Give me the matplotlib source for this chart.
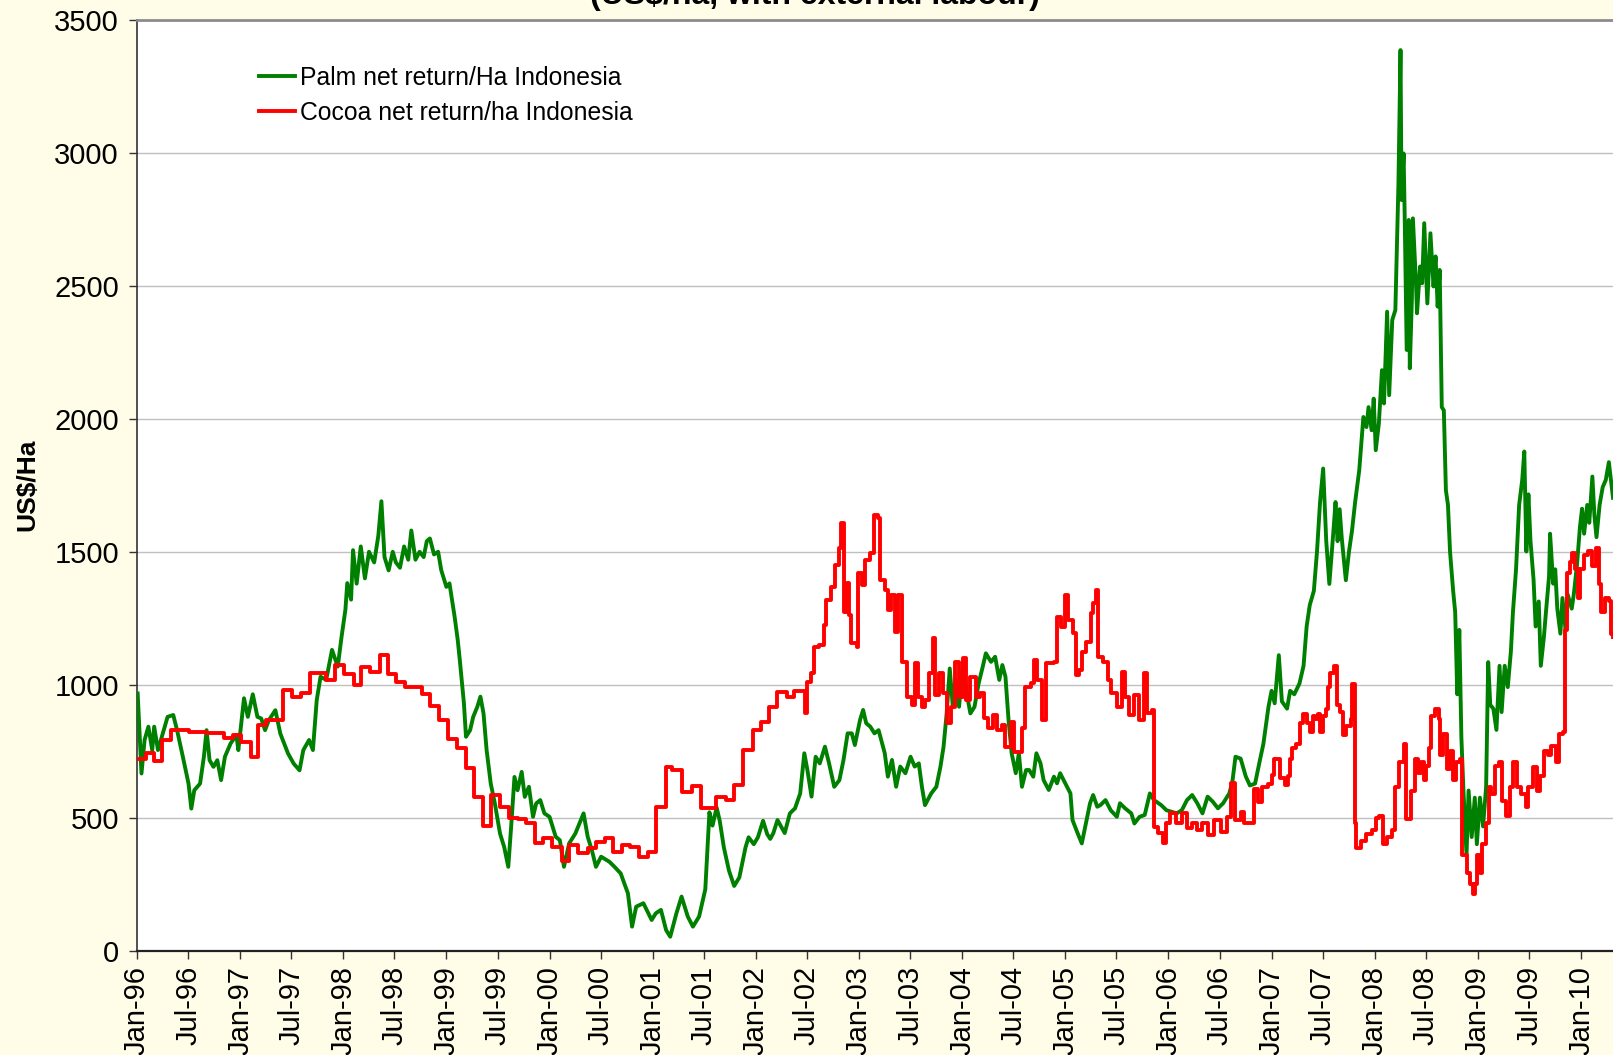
import numpy as np
import matplotlib.pyplot as plt

plt.rcParams['font.family'] = ['Liberation Sans', 'DejaVu Sans']

# palm net return, US$/ha (time in years after Jan 1996)
palm_t = [0.007, 0.044, 0.074, 0.111, 0.148, 0.167, 0.204, 0.241, 0.297, 0.352, 0.389, 0.445, 0.5, 0.527,
          0.556, 0.612, 0.649, 0.675, 0.704, 0.742, 0.779, 0.816, 0.853, 0.908, 0.964, 0.983, 1.038, 1.075,
          1.123, 1.168, 1.205, 1.242, 1.279, 1.342, 1.39, 1.465, 1.52, 1.576, 1.613, 1.669, 1.706, 1.743,
          1.78, 1.835, 1.891, 1.947, 1.984, 2.021, 2.039, 2.076, 2.095, 2.13, 2.17, 2.21, 2.25, 2.3, 2.34,
          2.37, 2.4, 2.44, 2.48, 2.51, 2.55, 2.59, 2.63, 2.66, 2.7, 2.74, 2.78, 2.81, 2.84, 2.88, 2.92, 2.95,
          3.0, 3.03, 3.08, 3.11, 3.13, 3.17, 3.19, 3.23, 3.26, 3.3, 3.33, 3.36, 3.39, 3.43, 3.47, 3.52, 3.56,
          3.6, 3.63, 3.66, 3.69, 3.73, 3.76, 3.8, 3.84, 3.87, 3.91, 3.95, 4.0, 4.06, 4.1, 4.14, 4.19, 4.25,
          4.29, 4.33, 4.37, 4.41, 4.45, 4.5, 4.58, 4.63, 4.69, 4.76, 4.8, 4.84, 4.91, 4.99, 5.03, 5.08, 5.13,
          5.17, 5.23, 5.28, 5.34, 5.39, 5.45, 5.51, 5.55, 5.58, 5.62, 5.65, 5.69, 5.74, 5.79, 5.84, 5.9,
          5.93, 5.98, 6.02, 6.07, 6.11, 6.14, 6.17, 6.21, 6.28, 6.33, 6.38, 6.43, 6.47, 6.5, 6.54, 6.58,
          6.62, 6.67, 6.71, 6.76, 6.81, 6.85, 6.89, 6.93, 6.96, 7.01, 7.04, 7.07, 7.11, 7.15, 7.19, 7.25,
          7.28, 7.32, 7.36, 7.4, 7.45, 7.5, 7.54, 7.58, 7.61, 7.64, 7.7, 7.75, 7.79, 7.82, 7.85, 7.88, 7.91,
          7.94, 7.97, 8.01, 8.05, 8.08, 8.12, 8.16, 8.2, 8.23, 8.28, 8.32, 8.36, 8.39, 8.42, 8.45, 8.48,
          8.52, 8.55, 8.58, 8.62, 8.65, 8.69, 8.72, 8.76, 8.79, 8.84, 8.89, 8.92, 8.95, 9.0, 9.05, 9.07,
          9.12, 9.16, 9.2, 9.24, 9.27, 9.31, 9.34, 9.39, 9.44, 9.5, 9.53, 9.58, 9.64, 9.67, 9.72, 9.77,
          9.82, 9.86, 9.93, 9.98, 10.03, 10.08, 10.13, 10.18, 10.23, 10.28, 10.33, 10.38, 10.43, 10.48,
          10.53, 10.59, 10.62, 10.65, 10.7, 10.75, 10.79, 10.84, 10.89, 10.92, 10.97, 11.0, 11.03, 11.07,
          11.1, 11.15, 11.18, 11.22, 11.27, 11.31, 11.34, 11.37, 11.41, 11.44, 11.47, 11.5, 11.53, 11.56,
          11.6, 11.62, 11.64, 11.66, 11.68, 11.72, 11.75, 11.78, 11.81, 11.85, 11.89, 11.92, 11.94, 11.97,
          11.99, 12.01, 12.04, 12.07, 12.09, 12.12, 12.14, 12.17, 12.2, 12.22, 12.23, 12.25, 12.26, 12.28,
          12.29, 12.31, 12.33, 12.34, 12.36, 12.37, 12.4, 12.41, 12.44, 12.46, 12.48, 12.51, 12.54, 12.57,
          12.59, 12.61, 12.63, 12.65, 12.67, 12.69, 12.71, 12.73, 12.76, 12.78, 12.8, 12.82, 12.84, 12.86,
          12.89, 12.91, 12.94, 12.97, 12.99, 13.02, 13.05, 13.08, 13.1, 13.12, 13.15, 13.18, 13.21, 13.23,
          13.26, 13.29, 13.32, 13.34, 13.37, 13.4, 13.43, 13.45, 13.47, 13.49, 13.51, 13.54, 13.56, 13.59,
          13.61, 13.64, 13.66, 13.69, 13.7, 13.73, 13.75, 13.77, 13.8, 13.82, 13.85, 13.87, 13.91, 13.93,
          13.96, 13.99, 14.01, 14.03, 14.06, 14.08, 14.11, 14.13, 14.15, 14.18, 14.21, 14.24, 14.27, 14.31]
palm_val = [967, 666, 792, 842, 754, 842, 754, 804, 879, 886, 829, 729, 628, 534,
            603, 628, 729, 829, 716, 691, 716, 641, 729, 779, 811, 754, 949, 879,
            964, 879, 873, 829, 867, 904, 816, 741, 703, 678, 754, 792, 754, 942,
            1030, 1018, 1131, 1068, 1181, 1282, 1382, 1320, 1506, 1380, 1520, 1400, 1500, 1460, 1560,
            1690, 1480, 1430, 1500, 1460, 1440, 1520, 1470, 1580, 1470, 1500, 1480, 1540, 1550, 1490, 1500, 1431,
            1368, 1381, 1255, 1168, 1093, 930, 804, 829, 879, 917, 955, 892, 754, 628, 553, 440, 390,
            315, 478, 653, 603, 672, 578, 616, 503, 553, 566, 516, 503, 428, 415, 315, 403, 440,
            478, 516, 428, 378, 315, 353, 334, 315, 290, 215, 90, 165, 178, 115, 140, 153, 77,
            52, 140, 203, 128, 90, 128, 230, 520, 470, 538, 488, 388, 300, 243, 275, 388,
            426, 400, 426, 488, 438, 420, 442, 491, 442, 516, 535, 591, 742, 679, 579, 729,
            704, 767, 704, 616, 641, 717, 817, 817, 773, 867, 905, 855, 842, 817, 829, 742,
            654, 717, 616, 692, 667, 729, 692, 704, 616, 547, 591, 616, 692, 767, 892, 1061, 917,
            1018, 917, 1086, 955, 892, 917, 1005, 1068, 1118, 1086, 1105, 1018, 1074, 1030, 867, 742,
            667, 742, 616, 679, 679, 654, 742, 704, 641, 604, 654, 629, 667, 629, 591, 491,
            441, 403, 478, 554, 585, 541, 547, 566, 528, 503, 554, 535, 516, 478, 503, 510,
            591, 566, 547, 528, 522, 516, 528, 566, 585, 554, 516, 579, 560, 535,
            554, 591, 635, 729, 722, 655, 621, 628, 722, 776, 917, 977, 930, 1111,
            937, 910, 977, 964, 1004, 1071, 1219, 1299, 1353, 1499, 1687, 1813, 1540, 1379,
            1580, 1687, 1540, 1660, 1553, 1393, 1499, 1580, 1687, 1807, 2007, 1969, 2044, 1957,
            2076, 1882, 1982, 2183, 2058, 2403, 2089, 2372, 2409, 2722, 2885, 3387, 2823, 2998,
            2773, 2259, 2748, 2190, 2447, 2754, 2510, 2397, 2573, 2510, 2736, 2434, 2698, 2498,
            2611, 2422, 2560, 2044, 2032, 1731, 1676, 1501, 1354, 1273, 964, 1206, 803, 602,
            360, 602, 427, 575, 400, 575, 467, 615, 1085, 924, 910, 830, 1071, 897,
            1071, 991, 1125, 1273, 1434, 1676, 1770, 1877, 1501, 1716, 1541, 1394, 1219, 1313,
            1071, 1179, 1273, 1407, 1568, 1380, 1434, 1286, 1192, 1326, 1206, 1340, 1286, 1340,
            1447, 1595, 1662, 1568, 1676, 1609, 1783, 1635, 1555, 1676, 1743, 1770, 1837, 1703]

# cocoa net return, US$/ha (value holds until the next change)
cocoa_t = [0.0, 0.085, 0.167, 0.241, 0.334, 0.5, 0.667, 0.842, 0.927, 1.012, 1.101, 1.175, 1.25, 1.42,
           1.5, 1.594, 1.68, 1.835, 1.917, 2.01, 2.1, 2.176, 2.262, 2.354, 2.43, 2.51, 2.6, 2.762, 2.844,
           2.93, 3.02, 3.1, 3.19, 3.27, 3.356, 3.43, 3.52, 3.61, 3.69, 3.77, 3.856, 3.94, 4.02, 4.116,
           4.19, 4.28, 4.375, 4.45, 4.535, 4.616, 4.7, 4.78, 4.87, 4.95, 5.03, 5.128, 5.19, 5.28, 5.38,
           5.465, 5.61, 5.71, 5.79, 5.88, 5.97, 6.05, 6.13, 6.21, 6.3, 6.37, 6.48, 6.5, 6.53, 6.56, 6.61,
           6.66, 6.68, 6.73, 6.77, 6.81, 6.83, 6.85, 6.88, 6.9, 6.92, 6.98, 6.99, 7.03, 7.06, 7.11, 7.15,
           7.18, 7.2, 7.25, 7.28, 7.31, 7.35, 7.38, 7.42, 7.47, 7.51, 7.54, 7.57, 7.61, 7.64, 7.68, 7.72,
           7.74, 7.78, 7.81, 7.85, 7.89, 7.93, 7.97, 8.01, 8.04, 8.08, 8.13, 8.17, 8.21, 8.25, 8.3, 8.34,
           8.39, 8.42, 8.47, 8.5, 8.58, 8.61, 8.67, 8.7, 8.73, 8.77, 8.81, 8.89, 8.92, 8.96, 9.0, 9.03,
           9.07, 9.1, 9.13, 9.16, 9.2, 9.25, 9.27, 9.3, 9.32, 9.37, 9.41, 9.44, 9.5, 9.55, 9.58, 9.62,
           9.67, 9.71, 9.76, 9.79, 9.84, 9.86, 9.9, 9.95, 9.98, 10.02, 10.07, 10.13, 10.18, 10.23, 10.28,
           10.33, 10.38, 10.44, 10.51, 10.57, 10.61, 10.65, 10.7, 10.73, 10.83, 10.87, 10.91, 10.97, 11.0,
           11.02, 11.08, 11.13, 11.16, 11.18, 11.2, 11.24, 11.28, 11.3, 11.34, 11.37, 11.4, 11.42, 11.45,
           11.47, 11.5, 11.53, 11.55, 11.57, 11.61, 11.63, 11.66, 11.69, 11.72, 11.77, 11.78, 11.81, 11.82,
           11.87, 11.92, 11.97, 12.01, 12.04, 12.08, 12.12, 12.17, 12.2, 12.24, 12.28, 12.3, 12.35, 12.39,
           12.42, 12.45, 12.48, 12.5, 12.53, 12.55, 12.58, 12.62, 12.63, 12.66, 12.7, 12.73, 12.76, 12.79,
           12.83, 12.85, 12.89, 12.92, 12.95, 12.97, 12.99, 13.02, 13.04, 13.08, 13.11, 13.13, 13.17, 13.2,
           13.23, 13.27, 13.31, 13.34, 13.38, 13.42, 13.47, 13.49, 13.53, 13.57, 13.6, 13.64, 13.68, 13.71,
           13.76, 13.79, 13.83, 13.84, 13.86, 13.89, 13.91, 13.94, 13.97, 13.99, 14.03, 14.07, 14.11,
           14.15, 14.17, 14.19, 14.23, 14.27, 14.29, 14.31]
cocoa_val = [720, 742, 713, 793, 829, 822, 819, 798, 810, 783, 727, 848, 867, 980,
             955, 967, 1043, 1018, 1074, 1040, 999, 1065, 1049, 1112, 1040, 1011, 990, 965, 920,
             867, 796, 761, 685, 576, 468, 585, 541, 497, 493, 481, 405, 422, 388, 337,
             397, 366, 385, 410, 422, 372, 397, 391, 353, 372, 541, 692, 679, 598, 619,
             535, 579, 566, 622, 754, 829, 861, 917, 974, 955, 977, 892, 1011, 1043, 1143, 1149,
             1225, 1319, 1369, 1451, 1513, 1607, 1274, 1381, 1262, 1156, 1143, 1419, 1375, 1469, 1494, 1639,
             1626, 1394, 1356, 1281, 1337, 1199, 1337, 1086, 955, 923, 1080, 955, 917, 942, 1043, 1174,
             961, 1043, 967, 855, 917, 1086, 955, 1099, 942, 1030, 955, 967, 873, 836, 886, 829,
             848, 767, 861, 748, 836, 992, 1005, 1093, 1018, 867, 1080, 1086, 1256, 1218, 1337, 1243,
             1193, 1036, 1055, 1124, 1162, 1268, 1306, 1356, 1105, 1086, 1018, 967, 917, 1049, 955, 886,
             961, 867, 1043, 892, 905, 466, 441, 403, 478, 516, 478, 516, 460, 478, 453,
             478, 434, 491, 447, 503, 629, 491, 521, 480, 608, 560, 614, 628, 661,
             722, 648, 621, 655, 722, 762, 776, 856, 890, 856, 823, 883, 870, 890,
             823, 883, 910, 991, 1044, 1071, 924, 897, 810, 843, 870, 1004, 480, 386,
             413, 440, 453, 500, 507, 400, 427, 453, 615, 709, 776, 493, 602, 722,
             668, 709, 642, 695, 762, 883, 910, 870, 735, 816, 682, 749, 642, 709,
             722, 360, 293, 252, 212, 252, 360, 293, 400, 480, 615, 588, 695, 709,
             561, 507, 615, 709, 615, 588, 541, 615, 689, 602, 655, 749, 735, 769,
             709, 816, 823, 1206, 1420, 1461, 1494, 1434, 1326, 1434, 1487, 1501, 1447,
             1514, 1380, 1273, 1326, 1313, 1192, 1179]

years = list(range(1996, 2011))
tick_pos = []
tick_labels = []
for y in years:
    tick_pos += [y, y + 0.496]
    tick_labels += ['Jan-%02d' % (y % 100), 'Jul-%02d' % (y % 100)]
tick_pos = tick_pos[:-1]
tick_labels = tick_labels[:-1]

fig = plt.figure(figsize=(16.13, 10.55), dpi=100, facecolor='#FFFCE8')
ax = fig.add_axes([0.0849, 0.099, 0.9151, 0.882])
ax.set_facecolor('white')

ax.plot(1996 + np.array(palm_t), palm_val, color='#008000', lw=2.8,
        label='Palm net return/Ha Indonesia', zorder=3)
ax.step(1996 + np.array(cocoa_t), cocoa_val, where='post', color='#FF0000', lw=2.8,
        label='Cocoa net return/ha Indonesia', zorder=3)

ax.set_xlim(1996, 2010.31)
ax.set_ylim(0, 3500)
ax.set_yticks(range(0, 3501, 500))
ax.set_xticks(tick_pos)
ax.set_xticklabels(tick_labels, rotation=90)
ax.yaxis.grid(True, color='#C0C0C0', lw=1.0)
ax.set_axisbelow(True)
ax.tick_params(axis='both', direction='out', length=6, width=1, labelsize=21, color='#333333')
ax.tick_params(axis='y', pad=7)
ax.tick_params(axis='x', pad=5)

ax.spines['right'].set_visible(False)
ax.spines['top'].set_color('#8C8C8C')
ax.spines['top'].set_linewidth(2)
ax.spines['left'].set_color('#333333')
ax.spines['left'].set_linewidth(1.2)
ax.spines['bottom'].set_color('#222222')
ax.spines['bottom'].set_linewidth(1.6)

ax.legend(loc='upper left', bbox_to_anchor=(0.0826, 0.951), frameon=False, fontsize=17.8,
          handlelength=1.45, handletextpad=0.2, borderpad=0, borderaxespad=0, labelspacing=0.45)

fig.text(0.0167, 0.54, 'US$/Ha', rotation=90, ha='center', va='center', fontsize=19, fontweight='bold')
fig.text(0.505, 0.9963, '(US$/ha, with external labour)', ha='center', va='baseline',
         fontsize=23, fontweight='bold')

fig.savefig('out.png', dpi=100, facecolor=fig.get_facecolor())
